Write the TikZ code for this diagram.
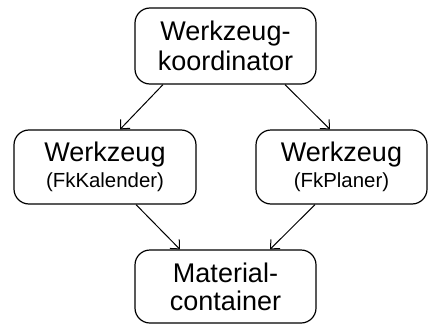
\documentclass[tikz,border=0pt]{standalone}
\usepackage{fontspec}
\setmainfont{Liberation Sans}
\usetikzlibrary{arrows.meta}
\begin{document}
\begin{tikzpicture}[x=1pt,y=-1pt,
  box/.style={draw,line width=1.2pt,rounded corners=15pt,inner sep=0pt,align=center,font=\fontsize{27}{30}\selectfont},
  link/.style={line width=1pt,-{Straight Barb[length=7pt,width=13pt,line width=1pt]}},
  small/.style={font=\fontsize{20.4}{28}\selectfont}]
\useasboundingbox (0,0) rectangle (428,324);
\node[box,minimum width=181pt,minimum height=76pt] (koord) at (225.5,46) {Werkzeug-\\koordinator};
\node[box,minimum width=182pt,minimum height=74pt] (kal) at (105,167) {Werkzeug\\[-4pt]{\fontsize{20.4}{24}\selectfont (FkKalender)}};
\node[box,minimum width=171pt,minimum height=74pt] (plan) at (341.5,167) {Werkzeug\\[-4pt]{\fontsize{20.4}{24}\selectfont (FkPlaner)}};
\node[box,minimum width=181pt,minimum height=73pt] (mat) at (225.5,286.5) {Material-\\[-2pt]container};
\draw[link] ([xshift=-62.5pt]koord.south) -- ([xshift=15pt]kal.north);
\draw[link] ([xshift=59.5pt]koord.south) -- ([xshift=-11.5pt]plan.north);
\draw[link] ([xshift=31pt]kal.south) -- ([xshift=-45.5pt]mat.north);
\draw[link] ([xshift=-26.5pt]plan.south) -- ([xshift=44.5pt]mat.north);
\end{tikzpicture}
\end{document}
